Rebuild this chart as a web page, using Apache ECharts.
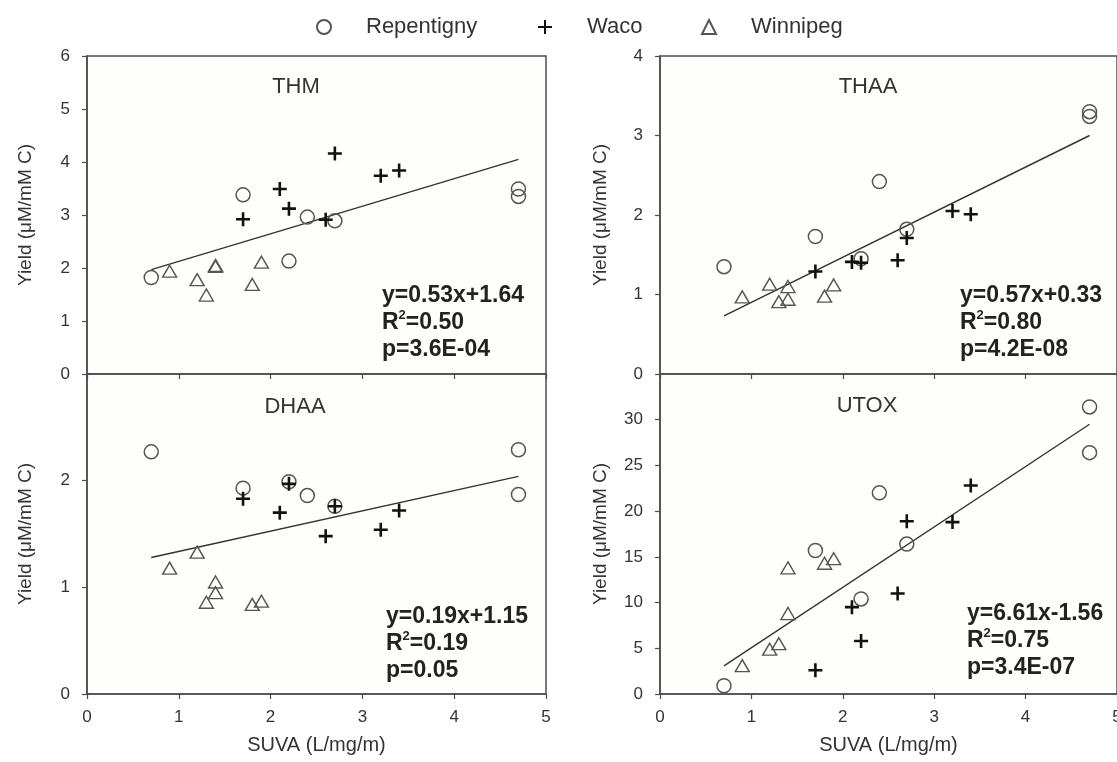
<!DOCTYPE html>
<html>
<head>
<meta charset="utf-8">
<title>Yield vs SUVA</title>
<script src="https://cdn.jsdelivr.net/npm/echarts@6/dist/echarts.min.js"></script>
<style>
	html, body { margin: 0; padding: 0; background: #fff; }
	#chart01 { width: 1117px; height: 762px; }
</style>
</head>
<body>
<div id="chart01"></div>
<script>
// SUVA (x) per site
const repSuva = [0.7, 1.7, 2.2, 2.4, 2.7, 4.7, 4.7];
const wacoSuva = [1.7, 2.1, 2.2, 2.6, 2.7, 3.2, 3.4];
const winSuva = [0.9, 1.2, 1.3, 1.4, 1.4, 1.8, 1.9];

// THM
const thmRep = [1.82, 3.38, 2.13, 2.96, 2.89, 3.49, 3.35];
const thmWaco = [2.92, 3.49, 3.12, 2.91, 4.16, 3.74, 3.84];
const thmWin = [1.94, 1.78, 1.49, 2.05, 2.03, 1.69, 2.11];
const thmFit = [[0.7, 1.97], [4.7, 4.05]];

// THAA
const thaaRep = [1.35, 1.73, 1.45, 2.42, 1.82, 3.30, 3.24];
const thaaWaco = [1.29, 1.41, 1.40, 1.43, 1.71, 2.05, 2.01];
const thaaWin = [0.97, 1.13, 0.91, 1.10, 0.94, 0.98, 1.12];
const thaaFit = [[0.7, 0.73], [4.7, 3.0]];

// DHAA
const dhaaRep = [2.27, 1.93, 1.99, 1.86, 1.76, 2.29, 1.87];
const dhaaWaco = [1.83, 1.70, 1.97, 1.48, 1.76, 1.54, 1.72];
const dhaaWin = [1.18, 1.33, 0.86, 1.05, 0.95, 0.84, 0.87];
const dhaaFit = [[0.7, 1.28], [4.7, 2.04]];

// UTOX
const utoxRep = [0.9, 15.7, 10.4, 22.0, 16.4, 31.4, 26.4];
const utoxWaco = [2.6, 9.5, 5.8, 11.0, 18.9, 18.8, 22.8];
const utoxWin = [3.1, 4.9, 5.5, 13.8, 8.8, 14.3, 14.8];
const utoxFit = [[0.7, 3.07], [4.7, 29.5]];

const panelNames = ['THM', 'THAA', 'DHAA', 'UTOX'];
const fitTexts = [
	['y=0.53x+1.64', '0.50', 'p=3.6E-04'],
	['y=0.57x+0.33', '0.80', 'p=4.2E-08'],
	['y=0.19x+1.15', '0.19', 'p=0.05'],
	['y=6.61x-1.56', '0.75', 'p=3.4E-07'],
];
const yMax = [6, 4, 3, 35];
const yStep = [1, 1, 1, 5];
const xTicks = [0, 1, 2, 3, 4, 5];

const FONT = 'Liberation Sans, Arial, sans-serif';
const AXIS_COLOR = '#4d4d4d';
const PLUS = 'path://M0,7L14,7M7,0L7,14';

function pair(xs, ys) {
	return xs.map((x, i) => [x, ys[i]]);
}

const panelData = [
	[pair(repSuva, thmRep), pair(wacoSuva, thmWaco), pair(winSuva, thmWin), thmFit],
	[pair(repSuva, thaaRep), pair(wacoSuva, thaaWaco), pair(winSuva, thaaWin), thaaFit],
	[pair(repSuva, dhaaRep), pair(wacoSuva, dhaaWaco), pair(winSuva, dhaaWin), dhaaFit],
	[pair(repSuva, utoxRep), pair(wacoSuva, utoxWaco), pair(winSuva, utoxWin), utoxFit],
];

// grid 위치 (좌상, 우상, 좌하, 우하)
const grids = [
	{ left: 87, top: 56, width: 459, height: 318 },
	{ left: 660, top: 56, width: 457, height: 318 },
	{ left: 87, top: 374, width: 459, height: 320 },
	{ left: 660, top: 374, width: 457, height: 320 },
];
// 패널 제목 / 회귀식 위치
const titlePos = [[296, 76], [868, 76], [295, 396], [867, 395]];
const eqPos = [[382, 282], [960, 282], [386, 603], [967, 600]];

const tickStyle = { show: true, inside: false, length: 5, lineStyle: { color: AXIS_COLOR, width: 1.2 } };
const lineStyle = { show: true, onZero: false, lineStyle: { color: AXIS_COLOR, width: 1.5 } };

const option = {
	animation: false,
	backgroundColor: '#fff',
	textStyle: { fontFamily: FONT },
	legend: [
		{ data: ['Repentigny'], left: 316, top: 16 },
		{ data: ['Waco'], left: 537, top: 16 },
		{ data: ['Winnipeg'], left: 701, top: 16 },
	].map(l => Object.assign(l, {
		itemWidth: 14,
		itemHeight: 14,
		padding: 0,
		selectedMode: false,
		textStyle: { fontSize: 22, color: '#333', fontFamily: FONT, padding: [0, 0, 0, 30] },
	})),
	title: [],
	grid: grids.map(g => Object.assign({
		show: true, borderColor: AXIS_COLOR, borderWidth: 1.5, backgroundColor: '#fefefc',
		containLabel: false, outerBoundsMode: 'none',
	}, g)),
	xAxis: grids.map((g, i) => ({
		type: 'value',
		gridIndex: i,
		min: xTicks[0],
		max: xTicks[xTicks.length - 1],
		interval: 1,
		splitLine: { show: false },
		axisLine: lineStyle,
		axisTick: tickStyle,
		axisLabel: { show: i >= 2, fontSize: 17, color: '#333', margin: 15, fontFamily: FONT },
		name: i >= 2 ? 'SUVA (L/mg/m)' : '',
		nameLocation: 'middle',
		nameGap: 41,
		nameTextStyle: { fontSize: 20, color: '#333', fontFamily: FONT },
	})),
	yAxis: grids.map((g, i) => ({
		type: 'value',
		gridIndex: i,
		min: 0,
		max: yMax[i],
		interval: yStep[i],
		splitLine: { show: false },
		axisLine: lineStyle,
		axisTick: tickStyle,
		axisLabel: { fontSize: 17, color: '#333', margin: 17, showMaxLabel: i < 2, fontFamily: FONT },
		name: 'Yield (μM/mM C)',
		nameLocation: 'middle',
		nameGap: i % 2 === 0 ? 52 : 50,
		nameTextStyle: { fontSize: 19, color: '#333', fontFamily: FONT },
	})),
	series: [],
};

panelNames.forEach((nm, i) => {
	option.title.push({
		text: nm,
		left: titlePos[i][0],
		top: titlePos[i][1],
		textAlign: 'center',
		padding: 0,
		textStyle: { fontSize: 22, fontWeight: 'normal', color: '#333', fontFamily: FONT },
	});
	const t = fitTexts[i];
	option.title.push({
		text: t[0] + '\nR{sup|2}=' + t[1] + '\n' + t[2],
		left: eqPos[i][0],
		top: eqPos[i][1],
		padding: 0,
		textStyle: {
			fontSize: 23, fontWeight: 'bold', color: '#222', lineHeight: 27, fontFamily: FONT,
			rich: { sup: { fontSize: 13, fontWeight: 'bold', color: '#222', verticalAlign: 'top', padding: [0, 0, 12, 0], fontFamily: FONT } },
		},
	});

	const d = panelData[i];
	option.series.push(
		{
			name: 'Repentigny', type: 'scatter', xAxisIndex: i, yAxisIndex: i,
			symbol: 'circle', symbolSize: 14, data: d[0],
			itemStyle: { color: 'rgba(255,255,255,0)', borderColor: '#555', borderWidth: 1.5, opacity: 1 },
			z: 3,
		},
		{
			name: 'Waco', type: 'scatter', xAxisIndex: i, yAxisIndex: i,
			symbol: PLUS, symbolSize: 14, data: d[1],
			itemStyle: { color: 'rgba(0,0,0,0)', borderColor: '#111', borderWidth: 2.6, opacity: 1 },
			z: 4,
		},
		{
			name: 'Winnipeg', type: 'scatter', xAxisIndex: i, yAxisIndex: i,
			symbol: 'triangle', symbolSize: [14, 12], data: d[2],
			itemStyle: { color: 'rgba(255,255,255,0)', borderColor: '#555', borderWidth: 1.4, opacity: 1 },
			z: 3,
		},
		{
			name: 'fit' + nm, type: 'line', xAxisIndex: i, yAxisIndex: i,
			data: d[3], showSymbol: false, silent: true,
			lineStyle: { color: '#333', width: 1.4 },
			z: 2,
		}
	);
});

const myChart = echarts.init(document.getElementById('chart01'), null, { renderer: 'canvas' });
myChart.setOption(option);
window.addEventListener('resize', myChart.resize);
</script>
</body>
</html>
